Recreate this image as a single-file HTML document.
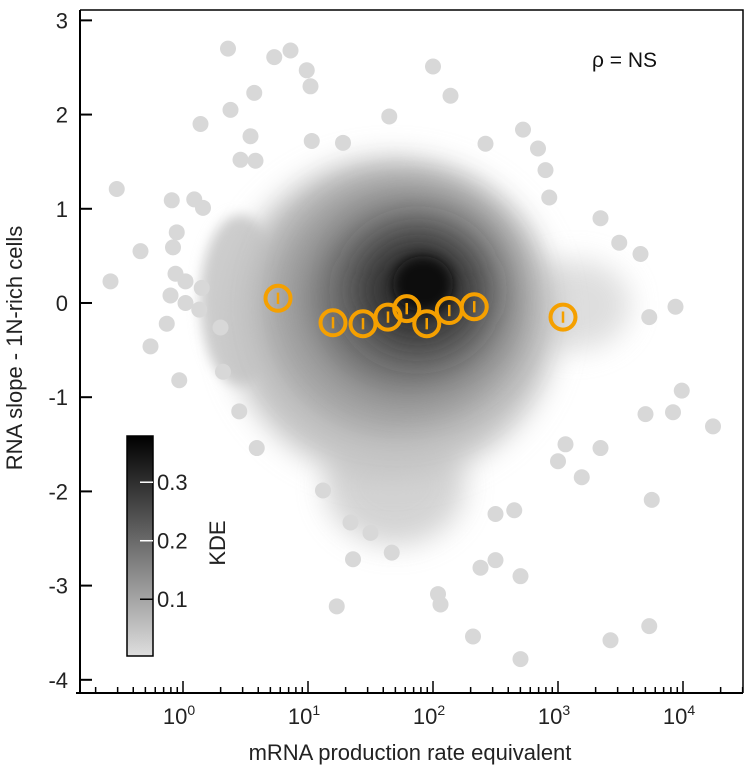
<!DOCTYPE html>
<html><head><meta charset="utf-8"><style>
html,body{margin:0;padding:0;background:#fff;}
svg{display:block;font-family:"Liberation Sans",Arial,sans-serif;}
</style></head><body>
<svg id="chart" width="744" height="770" viewBox="0 0 744 770" xmlns="http://www.w3.org/2000/svg">
<defs>
<filter id="b6" x="-50%" y="-50%" width="200%" height="200%"><feGaussianBlur stdDeviation="6"/></filter>
<filter id="b14" x="-50%" y="-50%" width="200%" height="200%"><feGaussianBlur stdDeviation="14"/></filter>
<filter id="b20" x="-50%" y="-50%" width="200%" height="200%"><feGaussianBlur stdDeviation="20"/></filter>
<linearGradient id="cbg" x1="0" y1="1" x2="0" y2="0">
<stop offset="0" stop-color="#dedede"/><stop offset="1" stop-color="#000"/>
</linearGradient>
</defs>
<g id="cloud">
<ellipse cx="240" cy="300" rx="40" ry="85" fill="#cdcdcd" filter="url(#b6)"/>
<ellipse cx="575" cy="305" rx="55" ry="45" fill="#d6d6d6" opacity="0.8" filter="url(#b14)"/>
<ellipse cx="395" cy="485" rx="70" ry="60" fill="#cccccc" opacity="0.85" filter="url(#b14)"/>
<ellipse cx="392" cy="318" rx="165" ry="160" fill="#c4c4c4" filter="url(#b14)"/>
<ellipse cx="398" cy="305" rx="135" ry="130" fill="#a6a6a6" filter="url(#b14)"/>
<ellipse cx="408" cy="298" rx="100" ry="95" fill="#707070" filter="url(#b20)"/>
<ellipse cx="418" cy="290" rx="62" ry="58" fill="#2e2e2e" filter="url(#b20)"/>
<ellipse cx="423" cy="284" rx="30" ry="28" fill="#080808" filter="url(#b6)"/>
</g>
<g id="points"></g>
<g id="binned"></g>
<g id="axes"></g>
<text x="592" y="67" font-size="21" fill="#111">ρ = NS</text>
<text transform="translate(22,348) rotate(-90)" text-anchor="middle" font-size="22" fill="#222">RNA slope - 1N-rich cells</text>
<text x="410" y="760" text-anchor="middle" font-size="22" fill="#222">mRNA production rate equivalent</text>
<g id="colorbar">
<rect x="127" y="436" width="26" height="220" fill="url(#cbg)" stroke="#000" stroke-width="1.5"/>
<text transform="translate(225,543) rotate(-90)" text-anchor="middle" font-size="22" fill="#222">KDE</text>
</g>
</svg>
<script>
const outlierLogX=[0.36,0.73,0.86,0.99,1.02,0.57,0.38,0.14,0.54,1.65,0.46,0.58,1.03,1.28,-0.53,-0.09,0.09,0.16,-0.05,-0.34,-0.08,-0.58,-0.06,0.02,0.15,-0.10,0.02,0.13,-0.13,-0.26,0.30,2.00,2.14,2.72,2.42,2.84,2.90,2.93,3.34,3.49,3.66,3.94,3.73,-0.03,0.32,0.45,0.59,1.12,1.36,1.23,1.50,1.67,1.34,3.99,3.92,3.70,4.24,3.34,3.19,3.75,3.00,3.06,2.65,2.50,2.50,2.38,2.70,2.04,2.06,2.32,2.70,3.42,3.73];
const outlierY=[2.70,2.61,2.68,2.47,2.30,2.23,2.05,1.90,1.77,1.98,1.52,1.51,1.72,1.70,1.21,1.09,1.10,1.01,0.75,0.55,0.59,0.23,0.31,0.23,0.16,0.08,0.00,-0.07,-0.22,-0.46,-0.26,2.51,2.20,1.84,1.69,1.64,1.41,1.12,0.90,0.64,0.52,-0.04,-0.15,-0.82,-0.73,-1.15,-1.54,-1.99,-2.72,-3.22,-2.44,-2.65,-2.33,-0.93,-1.16,-1.18,-1.31,-1.54,-1.85,-2.09,-1.68,-1.50,-2.20,-2.24,-2.73,-2.81,-2.90,-3.09,-3.20,-3.54,-3.78,-3.58,-3.43];
const binLogX=[0.76,1.20,1.44,1.64,1.79,1.95,2.13,2.33,3.04];
const binY=[0.05,-0.21,-0.22,-0.15,-0.06,-0.22,-0.08,-0.04,-0.15];
const binErr=[0.06,0.06,0.06,0.06,0.06,0.06,0.06,0.06,0.06];
const yTicks=[3,2,1,0,-1,-2,-3,-4];
const xDecades=[0,1,2,3,4];
const cbTicks=[0.1,0.2,0.3];

const NS='http://www.w3.org/2000/svg';
const L=80,R=743,T=10,B=693;
const xMin=-0.824,xMax=4.48,yMin=-4.14,yMax=3.11;
const X=v=>L+(v-xMin)/(xMax-xMin)*(R-L);
const Y=v=>B-(v-yMin)/(yMax-yMin)*(B-T);
const CB=v=>656-(v-0.003)/(0.379-0.003)*220;
function mk(tag,attrs,parent){const e=document.createElementNS(NS,tag);for(const k in attrs)e.setAttribute(k,attrs[k]);parent.appendChild(e);return e;}

const gp=document.getElementById('points');
outlierLogX.forEach((lx,i)=>{
  const c=mk('circle',{cx:X(lx),cy:Y(outlierY[i]),r:8,fill:'#d8d8d8'},gp);
  
  
});

const gb=document.getElementById('binned');
binLogX.forEach((lx,i)=>{
  const g=mk('g',{},gb);
  
  
  mk('line',{x1:X(lx),x2:X(lx),y1:Y(binY[i]+binErr[i]),y2:Y(binY[i]-binErr[i]),stroke:'#f5a000','stroke-width':2.5},g);
  mk('circle',{cx:X(lx),cy:Y(binY[i]),r:12.5,fill:'none',stroke:'#f5a000','stroke-width':4},g);
});

const ga=document.getElementById('axes');
const xa=mk('line',{x1:76,x2:R,y1:B,y2:B,stroke:'#000','stroke-width':2},ga);


const ya=mk('line',{x1:L,x2:L,y1:T,y2:B,stroke:'#000','stroke-width':2},ga);


const fr=mk('path',{d:`M${L} ${T}H${R}V${B}`,fill:'none',stroke:'#000','stroke-width':1.5},ga);


yTicks.forEach(v=>{
  mk('line',{x1:L,x2:L+12,y1:Y(v),y2:Y(v),stroke:'#000','stroke-width':2},ga);
  const t=mk('text',{x:68,y:Y(v)+8,'text-anchor':'end','font-size':22,fill:'#222'},ga);
  t.textContent=v;
  
  
});
for(let d=-1;d<=4;d++){
  for(let m=1;m<10;m++){
    const lv=d+Math.log10(m);
    if(lv<xMin||lv>xMax)continue;
    mk('line',{x1:X(lv),x2:X(lv),y1:B,y2:B-(m===1?12:6),stroke:'#000','stroke-width':1.5},ga);
  }
}
xDecades.forEach(d=>{
  const t=mk('text',{x:X(d)-4,y:724,'text-anchor':'middle','font-size':22,fill:'#222'},ga);
  
  
  t.textContent='10';
  const s=mk('tspan',{dy:-9,'font-size':14},t);
  s.textContent=String(d);
});

const gc=document.getElementById('colorbar');
cbTicks.forEach(v=>{
  mk('line',{x1:140,x2:153,y1:CB(v),y2:CB(v),stroke:v>0.15?'#fff':'#000','stroke-width':1.5},gc);
  const t=mk('text',{x:157,y:CB(v)+8,'font-size':22,fill:'#222'},gc);
  t.textContent=v.toFixed(1);
  
  
});
</script>
</body></html>
